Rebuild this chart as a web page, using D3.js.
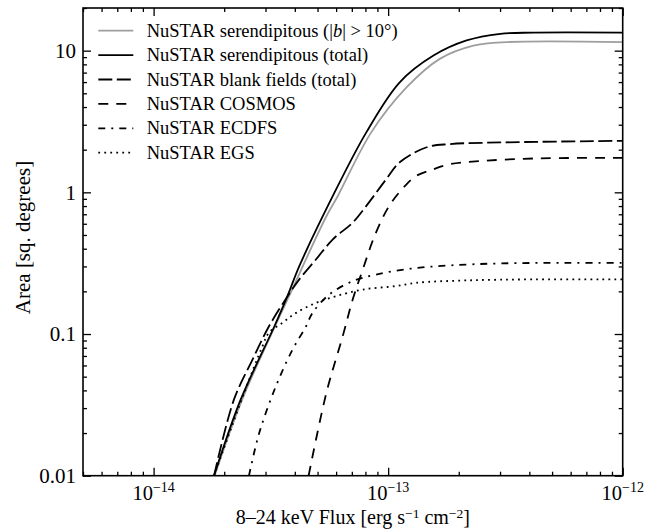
<!DOCTYPE html>
<html>
<head>
<meta charset="utf-8">
<script src="https://cdn.jsdelivr.net/npm/d3@7"></script>
<style>
  body { margin: 0; background: #fff; }
  svg { display: block; }
  text { font-family: "Liberation Serif", "DejaVu Serif", serif; fill: #000; }
</style>
</head>
<body>
<svg id="chart"></svg>
<script>
// sky coverage curves
const fluxTotal = [1.81e-14, 2.35e-14, 3.27e-14, 3.72e-14, 4.18e-14, 5.81e-14, 8.07e-14, 1.12e-13, 1.56e-13, 2.16e-13, 3.01e-13, 4.16e-13, 1e-12];
const areaTotal = [0.01, 0.0344, 0.113, 0.185, 0.301, 0.943, 2.65, 5.98, 9.23, 11.8, 13.15, 13.4, 13.4];

const fluxHighLat = [1.82e-14, 2.40e-14, 3.78e-14, 5.46e-14, 6.10e-14, 8.47e-14, 1.20e-13, 1.66e-13, 2.31e-13, 3.21e-13, 1e-12];
const areaHighLat = [0.01, 0.0353, 0.185, 0.681, 0.943, 2.65, 5.52, 8.75, 10.86, 11.5, 11.5];

const fluxBlank = [1.81e-14, 2.20e-14, 2.64e-14, 3.10e-14, 3.72e-14, 4.18e-14, 4.93e-14, 5.81e-14, 7.06e-14, 8.07e-14, 9.82e-14, 1.12e-13, 1.46e-13, 1.83e-13, 3.01e-13, 1e-12];
const areaBlank = [0.01, 0.0344, 0.0659, 0.113, 0.184, 0.243, 0.337, 0.466, 0.611, 0.802, 1.24, 1.63, 2.08, 2.19, 2.25, 2.31];

const fluxCosmos = [4.58e-14, 5.45e-14, 6.40e-14, 7.06e-14, 7.80e-14, 8.75e-14, 1.01e-13, 1.18e-13, 1.32e-13, 1.56e-13, 1.83e-13, 2.55e-13, 4.17e-13, 1e-12];
const areaCosmos = [0.01, 0.0383, 0.0964, 0.175, 0.286, 0.491, 0.802, 1.11, 1.31, 1.455, 1.58, 1.667, 1.734, 1.75];

const fluxEcdfs = [2.55e-14, 2.82e-14, 3.32e-14, 3.91e-14, 4.47e-14, 4.76e-14, 5.61e-14, 7.06e-14, 8.89e-14, 1.24e-13, 1.83e-13, 3.01e-13, 5.79e-13, 1e-12];
const areaEcdfs = [0.01, 0.02, 0.0427, 0.0776, 0.1135, 0.141, 0.190, 0.236, 0.263, 0.289, 0.305, 0.315, 0.318, 0.318];

const fluxEgs = [1.81e-14, 2.43e-14, 2.91e-14, 3.10e-14, 3.54e-14, 4.05e-14, 4.93e-14, 6.00e-14, 7.80e-14, 1.08e-13, 1.32e-13, 2.16e-13, 4.17e-13, 1e-12];
const areaEgs = [0.01, 0.0383, 0.0818, 0.102, 0.120, 0.141, 0.166, 0.185, 0.206, 0.218, 0.230, 0.239, 0.243, 0.243];

const seriesNames = [
  'NuSTAR serendipitous (|b| > 10°)',
  'NuSTAR serendipitous (total)',
  'NuSTAR blank fields (total)',
  'NuSTAR COSMOS',
  'NuSTAR ECDFS',
  'NuSTAR EGS'
];

const xMajor = [1e-14, 1e-13, 1e-12];
const xMajorExp = ['−14', '−13', '−12'];
const yMajor = [0.01, 0.1, 1, 10];
const yMajorLabels = ['0.01', '0.1', '1', '10'];

const width = 661, height = 529;
const margin = { top: 8, right: 38.3, bottom: 53.3, left: 83 };
const chartWidth = width - margin.left - margin.right;
const chartHeight = height - margin.top - margin.bottom;

const svg = d3.select('#chart')
  .attr('width', width)
  .attr('height', height);

svg.append('rect')
  .attr('width', width)
  .attr('height', height)
  .attr('fill', '#fff');

const g = svg.append('g')
  .attr('transform', `translate(${margin.left},${margin.top})`);

// Scales
const xScale = d3.scaleLog().domain([5e-15, 1e-12]).range([0, chartWidth]);
const yScale = d3.scaleLog().domain([0.01, 20]).range([chartHeight, 0]);

// minor tick values
const xMinor = [];
for (let e = -15; e <= -13; e++) {
  for (let m = 2; m <= 9; m++) {
    const v = m * Math.pow(10, e);
    if (v >= 5e-15 && v <= 1e-12) xMinor.push(v);
  }
}
const yMinor = [];
for (let e = -2; e <= 1; e++) {
  for (let m = 2; m <= 9; m++) {
    const v = m * Math.pow(10, e);
    if (v <= 20) yMinor.push(v);
  }
}

// Curves
g.append('defs').append('clipPath')
  .attr('id', 'plot-clip')
  .append('rect')
  .attr('width', chartWidth)
  .attr('height', chartHeight);

const line = d3.line()
  .x(d => xScale(d[0]))
  .y(d => yScale(d[1]))
  .curve(d3.curveCatmullRom.alpha(0.5));

const series = [
  { flux: fluxHighLat, area: areaHighLat, stroke: '#9e9e9e', dash: null, width: 1.8 },
  { flux: fluxTotal, area: areaTotal, stroke: '#000', dash: null, width: 1.8 },
  { flux: fluxBlank, area: areaBlank, stroke: '#000', dash: '14,4.5', width: 1.8 },
  { flux: fluxCosmos, area: areaCosmos, stroke: '#000', dash: '10,8', width: 1.8 },
  { flux: fluxEcdfs, area: areaEcdfs, stroke: '#000', dash: '7,6,2,6', width: 1.8 },
  { flux: fluxEgs, area: areaEgs, stroke: '#000', dash: '1.8,4.2', width: 1.8 }
];

const curves = g.append('g').attr('clip-path', 'url(#plot-clip)');
series.forEach(s => {
  curves.append('path')
    .datum(s.flux.map((f, i) => [f, s.area[i]]))
    .attr('fill', 'none')
    .attr('stroke', s.stroke)
    .attr('stroke-width', s.width)
    .attr('stroke-dasharray', s.dash)
    .attr('d', line);
});

// Axes: ticks pointing inward on all four sides
const tickAxis = (axis, values, size) => axis.tickValues(values).tickSize(size).tickFormat('');

g.append('g').attr('transform', `translate(0,${chartHeight})`)
  .call(tickAxis(d3.axisBottom(xScale), xMajor, -8));
g.append('g').attr('transform', `translate(0,${chartHeight})`)
  .call(tickAxis(d3.axisBottom(xScale), xMinor, -4));
g.append('g')
  .call(tickAxis(d3.axisTop(xScale), xMajor, -8));
g.append('g')
  .call(tickAxis(d3.axisTop(xScale), xMinor, -4));
g.append('g')
  .call(tickAxis(d3.axisLeft(yScale), yMajor, -8));
g.append('g')
  .call(tickAxis(d3.axisLeft(yScale), yMinor, -4));
g.append('g').attr('transform', `translate(${chartWidth},0)`)
  .call(tickAxis(d3.axisRight(yScale), yMajor, -8));
g.append('g').attr('transform', `translate(${chartWidth},0)`)
  .call(tickAxis(d3.axisRight(yScale), yMinor, -4));

g.selectAll('.domain').remove();
g.selectAll('.tick line').attr('stroke', '#000').attr('stroke-width', 1.3);

g.append('rect')
  .attr('width', chartWidth)
  .attr('height', chartHeight)
  .attr('fill', 'none')
  .attr('stroke', '#000')
  .attr('stroke-width', 1.6);

// Tick labels
xMajor.forEach((v, i) => {
  const t = g.append('text')
    .attr('x', xScale(v))
    .attr('y', chartHeight + 24)
    .attr('text-anchor', 'middle')
    .style('font-size', '20.5px');
  t.append('tspan').text('10');
  t.append('tspan')
    .attr('dy', -8)
    .style('font-size', '14px')
    .text(xMajorExp[i]);
});

yMajor.forEach((v, i) => {
  g.append('text')
    .attr('x', -7)
    .attr('y', yScale(v))
    .attr('dy', '0.35em')
    .attr('text-anchor', 'end')
    .style('font-size', '21px')
    .text(yMajorLabels[i]);
});

// Axis titles
const xTitle = g.append('text')
  .attr('x', chartWidth / 2)
  .attr('y', chartHeight + 48)
  .attr('text-anchor', 'middle')
  .style('font-size', '20px');
xTitle.append('tspan').text('8–24 keV Flux [erg s');
xTitle.append('tspan').attr('dy', -6).style('font-size', '13.5px').text('−1');
xTitle.append('tspan').attr('dy', 6).text(' cm');
xTitle.append('tspan').attr('dy', -6).style('font-size', '13.5px').text('−2');
xTitle.append('tspan').attr('dy', 6).text(']');

g.append('text')
  .attr('transform', `translate(${30 - margin.left},${237.5 - margin.top}) rotate(-90)`)
  .attr('text-anchor', 'middle')
  .style('font-size', '21px')
  .text('Area [sq. degrees]');

// Legend
const legend = svg.append('g');
seriesNames.forEach((name, i) => {
  const s = series[i];
  const y = 30.7 + i * 24.4;
  legend.append('line')
    .attr('x1', 98.3).attr('x2', 133.3)
    .attr('y1', y).attr('y2', y)
    .attr('stroke', s.stroke)
    .attr('stroke-width', s.width)
    .attr('stroke-dasharray', s.dash);
  const t = legend.append('text')
    .attr('x', 146.7)
    .attr('y', y + 6)
    .style('font-size', '18.5px');
  if (i === 0) {
    t.append('tspan').text('NuSTAR serendipitous (|');
    t.append('tspan').style('font-style', 'italic').text('b');
    t.append('tspan').text('| > 10°)');
  } else {
    t.text(name);
  }
});
</script>
</body>
</html>
